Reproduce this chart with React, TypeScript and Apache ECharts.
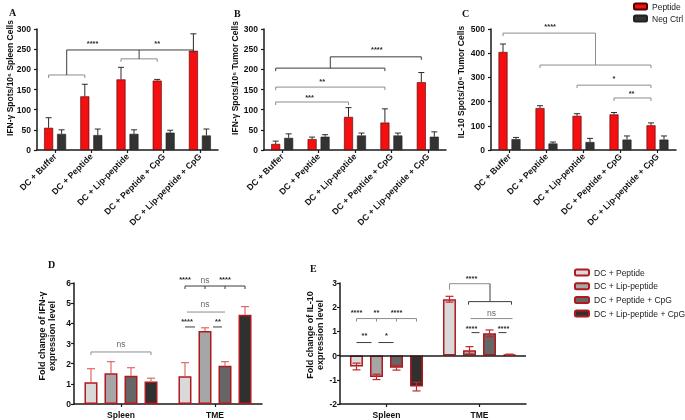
import React, { useEffect, useRef } from 'react';
import * as echarts from 'echarts';

// ---------- data ----------
const groupCats = ['DC + Buffer', 'DC + Peptide', 'DC + Lip-peptide', 'DC + Peptide + CpG', 'DC + Lip-peptide + CpG'];
const aPep = [55, 133, 175, 172, 246];
const aPepErr = [25, 30, 30, 3, 42];
const aNeg = [40, 37, 40, 43, 36];
const aNegErr = [10, 15, 10, 6, 16];
const bPep = [15, 27, 82, 68, 168];
const bPepErr = [7, 5, 23, 34, 24];
const bNeg = [30, 33, 36, 36, 33];
const bNegErr = [10, 5, 6, 6, 12];
const cPep = [405, 173, 141, 147, 102];
const cPepErr = [33, 10, 9, 8, 10];
const cNeg = [45, 27, 33, 43, 43];
const cNegErr = [7, 6, 15, 15, 15];
const spotTicks = [0, 50, 100, 150, 200, 250, 300];
const il10Ticks = [0, 100, 200, 300, 400, 500];
const tissueCats = ['Spleen', 'TME'];
const treatNames = ['DC + Peptide', 'DC + Lip-peptide', 'DC + Peptide + CpG', 'DC + Lip-peptide + CpG'];
const dVals = [[1.08, 1.37], [1.52, 3.62], [1.4, 1.9], [1.12, 4.43]];
const dErr = [[0.67, 0.68], [0.58, 0.16], [0.4, 0.2], [0.16, 0.4]];
const eVals = [[-0.45, 2.33], [-0.88, 0.22], [-0.5, 0.92], [-1.28, 0.04]];
const eErr = [[0.14, 0.12], [0.11, 0.15], [0.1, 0.14], [0.18, 0.02]];

type Pos = [number, number];
interface Ann { t: 'line' | 'v' | 'txt'; a: Pos; b?: Pos; y: number; y2?: number; drops?: Pos[]; s?: string; c?: string; dl?: number; ns?: boolean }

const annA: Ann[] = [
  { t: 'line', a: [0, 0], b: [1, 0], y: 186, drops: [[0, 0], [1, 0]], c: 'g' },
  { t: 'line', a: [2, 0], b: [3, 0], y: 226, drops: [[2, 0], [3, 0]], c: 'g' },
  { t: 'v', a: [0.5, 0], y: 186, y2: 248 },
  { t: 'v', a: [2.5, 0], y: 226, y2: 248 },
  { t: 'line', a: [0.5, 0], b: [4, 0], y: 248, drops: [[4, 0]] },
  { t: 'txt', a: [1, 0.6], y: 265, s: '****' },
  { t: 'txt', a: [3, 0], y: 265, s: '**' },
];
const annB: Ann[] = [
  { t: 'line', a: [0, 0], b: [3, 0], y: 203, drops: [[0, 0], [3, 0]] },
  { t: 'v', a: [1.5, 0], y: 203, y2: 231 },
  { t: 'line', a: [1.5, 0], b: [4, 0], y: 231, drops: [[4, 0]] },
  { t: 'txt', a: [2.6, 0.5], y: 248, s: '****' },
  { t: 'line', a: [0, 0], b: [3, 0], y: 156, drops: [[0, 0], [3, 0]], c: 'g' },
  { t: 'txt', a: [1.1, 0.5], y: 171, s: '**' },
  { t: 'line', a: [0, 0], b: [2, 0], y: 119, drops: [[0, 0], [2, 0]], c: 'g' },
  { t: 'txt', a: [0.75, 0.5], y: 131, s: '***' },
];
const annC: Ann[] = [
  { t: 'line', a: [0, 0], b: [2.5, 0], y: 483, drops: [[0, 0]], c: 'g' },
  { t: 'v', a: [2.5, 0], y: 483, y2: 351, c: 'g' },
  { t: 'line', a: [1, 0], b: [4, 0], y: 351, drops: [[1, 0], [4, 0]], c: 'g' },
  { t: 'txt', a: [1.1, 0.5], y: 512, s: '****' },
  { t: 'line', a: [2, 0], b: [4, 0], y: 268, drops: [[2, 0], [4, 0]], c: 'g' },
  { t: 'txt', a: [3, 0], y: 297, s: '*' },
  { t: 'line', a: [3, 0], b: [4, 0], y: 215, drops: [[3, 0], [4, 0]], c: 'g' },
  { t: 'txt', a: [3.3, 0.5], y: 235, s: '**' },
];
const annD: Ann[] = [
  { t: 'line', a: [0, 0], b: [0, 3], y: 2.58, drops: [[0, 0], [0, 3]], c: 'g' },
  { t: 'txt', a: [0, 1.5], y: 2.97, s: 'ns', ns: true },
  { t: 'line', a: [1, 0], b: [1, 3], y: 5.85, drops: [[1, 0], [1, 1], [1, 2], [1, 3]] },
  { t: 'txt', a: [1, 0], y: 6.15, s: '****' },
  { t: 'txt', a: [1, 1], y: 6.15, s: 'ns', ns: true },
  { t: 'txt', a: [1, 2], y: 6.15, s: '****' },
  { t: 'line', a: [1, 0.1], b: [1, 2], y: 4.56, c: 'g' },
  { t: 'txt', a: [1, 1], y: 4.96, s: 'ns', ns: true },
  { t: 'line', a: [1, 0], b: [1, 0.5], y: 3.82 },
  { t: 'txt', a: [1, 0.1], y: 4.07, s: '****' },
  { t: 'line', a: [1, 1.4], b: [1, 1.85], y: 3.82 },
  { t: 'txt', a: [1, 1.65], y: 4.07, s: '**' },
];
const annE: Ann[] = [
  { t: 'line', a: [0, 0], b: [0, 3], y: 1.53, drops: [[0, 0], [0, 1], [0, 2], [0, 3]], c: 'g' },
  { t: 'txt', a: [0, 0], y: 1.78, s: '****' },
  { t: 'txt', a: [0, 1], y: 1.78, s: '**' },
  { t: 'txt', a: [0, 2], y: 1.78, s: '****' },
  { t: 'line', a: [0, 0], b: [0, 0.75], y: 0.54 },
  { t: 'txt', a: [0, 0.4], y: 0.83, s: '**' },
  { t: 'line', a: [0, 1.1], b: [0, 1.85], y: 0.54 },
  { t: 'txt', a: [0, 1.5], y: 0.83, s: '*' },
  { t: 'line', a: [1, 0], b: [1, 2.025], y: 2.97, drops: [[1, 0]], dl: 6, c: 'g' },
  { t: 'v', a: [1, 2.025], y: 2.97, y2: 2.23 },
  { t: 'line', a: [1, 0.95], b: [1, 3.1], y: 2.23, drops: [[1, 0.95], [1, 3.1]] },
  { t: 'txt', a: [1, 1.1], y: 3.18, s: '****' },
  { t: 'line', a: [1, 1.05], b: [1, 3.15], y: 1.53, c: 'g' },
  { t: 'txt', a: [1, 2.1], y: 1.78, s: 'ns', ns: true },
  { t: 'line', a: [1, 1.1], b: [1, 1.5], y: 0.95 },
  { t: 'txt', a: [1, 1.1], y: 1.12, s: '****' },
  { t: 'line', a: [1, 2.45], b: [1, 2.85], y: 0.95 },
  { t: 'txt', a: [1, 2.7], y: 1.12, s: '****' },
];

// ---------- helpers ----------
const FONT = '"Liberation Sans", Arial, sans-serif';
const axisCol = '#1a1a1a';
const gridLefts = [37, 264, 491, 74, 340];

function annSeries(g: number, anns: Ann[], n: number, step: number): any {
  return {
    type: 'custom', xAxisIndex: g, yAxisIndex: g, silent: true, z: 10, clip: false,
    data: anns.map(() => [0, 0]),
    renderItem: (params: any, api: any) => {
      const a = anns[params.dataIndex];
      const px = (p: Pos, y: number) => {
        const c0 = Math.floor(p[0]), c1 = Math.ceil(p[0]), f = p[0] - c0;
        const q0 = api.coord([c0, y]), q1 = api.coord([c1, y]);
        return [q0[0] + (q1[0] - q0[0]) * f + (p[1] - (n - 1) / 2) * step, q0[1]];
      };
      const col = a.c === 'g' ? '#8c8c8c' : '#3c3c3c';
      const ls = { stroke: col, lineWidth: 1, fill: null };
      const ch: any[] = [];
      if (a.t === 'line') {
        const p1 = px(a.a, a.y), p2 = px(a.b as Pos, a.y);
        ch.push({ type: 'line', shape: { x1: p1[0], y1: p1[1], x2: p2[0], y2: p2[1] }, style: ls });
        (a.drops || []).forEach((d) => {
          const q = px(d, a.y);
          ch.push({ type: 'line', shape: { x1: q[0], y1: q[1], x2: q[0], y2: q[1] + (a.dl || 3) }, style: ls });
        });
      } else if (a.t === 'v') {
        const p1 = px(a.a, a.y), p2 = px(a.a, a.y2 as number);
        ch.push({ type: 'line', shape: { x1: p1[0], y1: p1[1], x2: p2[0], y2: p2[1] }, style: ls });
      } else {
        const p = px(a.a, a.y);
        ch.push({
          type: 'text', x: p[0], y: p[1],
          style: {
            text: a.s, fill: a.ns ? '#6a6a6a' : '#2a2a2a',
            font: a.ns ? `8.5px ${FONT}` : `bold 7.5px ${FONT}`,
            align: 'center', verticalAlign: 'middle',
          },
        });
      }
      return { type: 'group', children: ch };
    },
  };
}

function errSeries(g: number, vals: number[], errs: number[], idx: number, n: number, step: number, color: string, both: boolean, cap: number, lw: number): any {
  return {
    type: 'custom', xAxisIndex: g, yAxisIndex: g, silent: true, z: 5, clip: false,
    data: vals.map((v, i) => [i, v, errs[i]]),
    renderItem: (params: any, api: any) => {
      const c = api.value(0), v = api.value(1), e = api.value(2);
      const off = (idx - (n - 1) / 2) * step;
      const sgn = v >= 0 ? 1 : -1;
      const pEnd = api.coord([c, v + sgn * e]);
      const pStart = api.coord([c, both ? v - sgn * e : v]);
      const x = pEnd[0] + off;
      const st = { stroke: color, lineWidth: lw, fill: null };
      const ch: any[] = [
        { type: 'line', shape: { x1: x, y1: pStart[1], x2: x, y2: pEnd[1] }, style: st },
        { type: 'line', shape: { x1: x - cap / 2, y1: pEnd[1], x2: x + cap / 2, y2: pEnd[1] }, style: st },
      ];
      if (both) ch.push({ type: 'line', shape: { x1: x - cap / 2, y1: pStart[1], x2: x + cap / 2, y2: pStart[1] }, style: st });
      return { type: 'group', children: ch };
    },
  };
}

const yAxisBase = (g: number, min: number, max: number, interval: number, showLabel: boolean): any => ({
  type: 'value', gridIndex: g, min, max, interval,
  axisLine: { show: true, onZero: false, lineStyle: { color: axisCol, width: 1.5 } },
  axisTick: { show: true, length: 3, lineStyle: { color: axisCol, width: 1.2 } },
  splitLine: { show: false },
  axisLabel: { show: showLabel, fontSize: 8.5, fontWeight: 'bold', color: '#111', fontFamily: FONT, margin: 3 },
});

const xAxisGroup = (g: number): any => ({
  type: 'category', gridIndex: g, data: groupCats,
  axisLine: { show: true, onZero: false, lineStyle: { color: axisCol, width: 1.5 } },
  axisTick: { show: true, alignWithLabel: true, length: 3, lineStyle: { color: axisCol, width: 1.2 } },
  axisLabel: { rotate: 45, fontSize: 8.7, fontWeight: 'bold', color: '#111', fontFamily: FONT, margin: 5, interval: 0 },
});

const xAxisTissue = (g: number): any => ({
  type: 'category', gridIndex: g, data: tissueCats,
  axisLine: { show: true, onZero: false, lineStyle: { color: axisCol, width: 1.5 } },
  axisTick: { show: true, alignWithLabel: true, length: 3, lineStyle: { color: axisCol, width: 1.2 } },
  axisLabel: { fontSize: 8.5, fontWeight: 'bold', color: '#111', fontFamily: FONT, margin: 6 },
});

const RED = '#f41010';
const DARK = '#333333';
const greys = ['#d9d9d9', '#a6a6a6', '#666666', '#303030'];
const borderRed = '#b0191e';

const pairStep = 13;
const quadStep = 20;

function pairSeries(g: number, pep: number[], pepErr: number[], neg: number[], negErr: number[]): any[] {
  return [
    { type: 'bar', name: 'Peptide', xAxisIndex: g, yAxisIndex: g, data: pep, barWidth: 9, barGap: '44%', itemStyle: { color: RED, borderColor: '#4a0000', borderWidth: 0.6 } },
    { type: 'bar', name: 'Neg Ctrl', xAxisIndex: g, yAxisIndex: g, data: neg, barWidth: 9, barGap: '44%', itemStyle: { color: DARK, borderColor: '#222', borderWidth: 0.6 } },
    errSeries(g, pep, pepErr, 0, 2, pairStep, '#2b2b2b', false, 6, 1),
    errSeries(g, neg, negErr, 1, 2, pairStep, '#2b2b2b', false, 6, 1),
  ];
}

function quadSeries(g: number, vals: number[][], errs: number[][], both: boolean, errCol: string): any[] {
  const out: any[] = [];
  vals.forEach((v, i) => {
    const s: any = {
      type: 'bar', name: treatNames[i], xAxisIndex: g, yAxisIndex: g, data: v, barWidth: 13, barGap: '54%',
      itemStyle: { color: greys[i], borderColor: borderRed, borderWidth: 1.5 },
    };
    if (both && i === 0) {
      s.markLine = { silent: true, symbol: 'none', label: { show: false }, lineStyle: { color: axisCol, width: 1.5, type: 'solid' }, data: [{ yAxis: 0 }] };
    }
    out.push(s);
  });
  vals.forEach((v, i) => out.push(errSeries(g, v, errs[i], i, 4, quadStep, errCol, both, 8, 1.2)));
  return out;
}

const letter = (t: string, x: number, y: number): any => ({
  type: 'text', x, y, style: { text: t, font: 'bold 10px "Liberation Serif", "DejaVu Serif", serif', fill: '#111', align: 'left', verticalAlign: 'middle' },
});
const yName = (t: string, x: number, y: number, size: number): any => ({
  type: 'text', x, y, rotation: Math.PI / 2,
  style: { text: t, font: `bold ${size}px ${FONT}`, fill: '#111', align: 'center', verticalAlign: 'middle', lineHeight: size + 1.5 },
});

export default function App() {
  const ref = useRef<HTMLDivElement>(null);
  useEffect(() => {
    if (!ref.current) return;
    const chart = echarts.init(ref.current, undefined, { renderer: 'svg' });
    const baseGraphic: any[] = [
      letter('A', 9, 12),
      letter('B', 234, 13),
      letter('C', 462, 13),
      letter('D', 48, 264),
      letter('E', 310, 268),
      yName('IFN-γ Spots/10⁶ Spleen Cells', 10, 78, 8.5),
      yName('IFN-γ Spots/10⁶ Tumor Cells', 235, 78, 8.5),
      yName('IL-10 Spots/10⁶ Tumor Cells', 461, 82, 8.5),
      yName('Fold change of IFN-γ\nexpression level', 47, 336, 9),
      yName('Fold change of IL-10\nexpression level', 315, 335, 9),
    ];
    const option: any = {
      animation: false,
      textStyle: { fontFamily: FONT },
      grid: [
        { left: gridLefts[0], top: 29, width: 181, height: 121 },
        { left: gridLefts[1], top: 29, width: 182, height: 121 },
        { left: gridLefts[2], top: 29, width: 185, height: 121 },
        { left: gridLefts[3], top: 283, width: 188, height: 121 },
        { left: gridLefts[4], top: 283, width: 186, height: 121 },
      ],
      xAxis: [xAxisGroup(0), xAxisGroup(1), xAxisGroup(2), xAxisTissue(3), xAxisTissue(4)],
      yAxis: [
        yAxisBase(0, 0, 300, 50, false),
        yAxisBase(1, 0, 300, 50, false),
        yAxisBase(2, 0, 500, 100, false),
        yAxisBase(3, 0, 6, 1, true),
        yAxisBase(4, -2, 3, 1, true),
      ],
      legend: [
        {
          data: ['Peptide', 'Neg Ctrl'], orient: 'vertical', left: 633, top: 2, padding: 0,
          itemWidth: 13, itemHeight: 6, itemGap: 3, selectedMode: false,
          textStyle: { fontSize: 8.5, color: '#222', fontFamily: FONT },
        },
        {
          data: treatNames, orient: 'vertical', left: 574, top: 268, padding: 0,
          itemWidth: 14, itemHeight: 6, itemGap: 4.7, selectedMode: false,
          textStyle: { fontSize: 8.5, color: '#222', fontFamily: FONT },
        },
      ],
      graphic: baseGraphic,
      series: [
        ...pairSeries(0, aPep, aPepErr, aNeg, aNegErr),
        ...pairSeries(1, bPep, bPepErr, bNeg, bNegErr),
        ...pairSeries(2, cPep, cPepErr, cNeg, cNegErr),
        ...quadSeries(3, dVals, dErr, false, '#dd6a6a'),
        ...quadSeries(4, eVals, eErr, true, '#c0282d'),
        annSeries(0, annA, 2, pairStep),
        annSeries(1, annB, 2, pairStep),
        annSeries(2, annC, 2, pairStep),
        annSeries(3, annD, 4, quadStep),
        annSeries(4, annE, 4, quadStep),
      ],
    };
    chart.setOption(option);

    // tick labels of the three ELISpot panels, placed through each y axis' own scale
    const tickTexts: any[] = [];
    const tickSets: [number, number[]][] = [[0, spotTicks], [1, spotTicks], [2, il10Ticks]];
    tickSets.forEach(([g, ticks]) => {
      ticks.forEach((v) => {
        const py = chart.convertToPixel({ yAxisIndex: g }, v) as unknown as number;
        if (typeof py === 'number' && isFinite(py)) {
          tickTexts.push({
            type: 'text', z: 50, x: gridLefts[g] - 6, y: py,
            style: { text: String(v), font: `bold 8.5px ${FONT}`, fill: '#111', align: 'right', verticalAlign: 'middle' },
          });
        }
      });
    });
    chart.setOption({ graphic: [...baseGraphic, ...tickTexts] });
    return () => chart.dispose();
  }, []);
  return <div ref={ref} style={{ position: 'fixed', left: 0, top: 0, width: 685, height: 420 }} />;
}
